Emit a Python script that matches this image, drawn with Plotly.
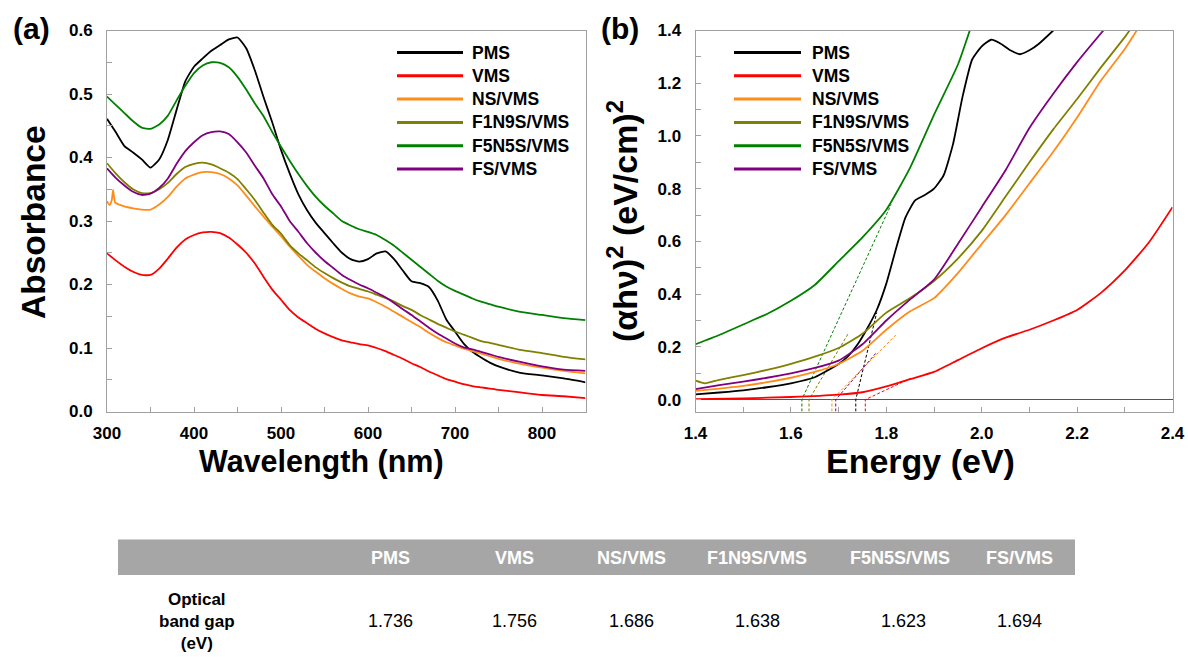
import plotly.graph_objects as go

W, H = 1188, 657
FONT = "Liberation Sans, Arial, sans-serif"

# ---------------- data ----------------
names = ["PMS", "VMS", "NS/VMS", "F1N9S/VMS", "F5N5S/VMS", "FS/VMS"]
colors = ["#000000", "#ff0000", "#ff8c1a", "#808000", "#008000", "#800080"]

# panel (a): absorbance vs wavelength
wl = [300, 310, 320, 330, 340, 350, 360, 370, 380, 390, 400, 410, 420, 430, 440, 450,
      460, 470, 480, 490, 500, 510, 520, 530, 540, 550, 560, 570, 580, 590, 600, 610,
      620, 630, 640, 650, 660, 670, 680, 690, 700, 710, 720, 730, 740, 750, 775, 800,
      825, 850]
abs_pms = [0.461, 0.44, 0.418, 0.408, 0.397, 0.384, 0.397, 0.428, 0.475, 0.52, 0.543, 0.556,
           0.568, 0.577, 0.586, 0.589, 0.572, 0.537, 0.495, 0.455, 0.412, 0.375, 0.342, 0.317,
           0.297, 0.281, 0.265, 0.25, 0.24, 0.236, 0.24, 0.249, 0.252, 0.24, 0.222, 0.205,
           0.202, 0.196, 0.175, 0.145, 0.126, 0.107, 0.094, 0.085, 0.077, 0.071, 0.061, 0.057,
           0.052, 0.046]
abs_vms = [0.249, 0.238, 0.228, 0.22, 0.215, 0.215, 0.225, 0.241, 0.258, 0.271, 0.278, 0.282,
           0.283, 0.281, 0.274, 0.263, 0.25, 0.233, 0.212, 0.192, 0.176, 0.16, 0.148, 0.139,
           0.13, 0.123, 0.117, 0.112, 0.109, 0.106, 0.104, 0.1, 0.095, 0.089, 0.083, 0.076,
           0.07, 0.063, 0.057, 0.051, 0.047, 0.043, 0.04, 0.038, 0.036, 0.034, 0.03, 0.026,
           0.024, 0.021]
wl_ns = [300, 303, 305.5, 307, 309.5, 320, 330, 340, 350, 360, 370, 380, 390, 400, 410, 420,
         430, 440, 450, 460, 470, 480, 490, 500, 510, 520, 530, 540, 550, 560, 570, 580, 590,
         600, 610, 620, 630, 640, 650, 660, 670, 680, 690, 700, 710, 720, 730, 740, 750, 775,
         800, 825, 850]
abs_ns = [0.331, 0.325, 0.333, 0.349, 0.329, 0.323, 0.32, 0.318, 0.318, 0.326, 0.338, 0.354,
          0.367, 0.373, 0.377, 0.377, 0.374, 0.367, 0.356, 0.34, 0.323, 0.307, 0.291, 0.276,
          0.26, 0.245, 0.231, 0.22, 0.21, 0.201, 0.193, 0.186, 0.181, 0.178, 0.172, 0.165,
          0.157, 0.149, 0.141, 0.133, 0.124, 0.116, 0.109, 0.104, 0.099, 0.095, 0.091, 0.087,
          0.083, 0.075, 0.069, 0.064, 0.06]
abs_f1 = [0.391, 0.375, 0.361, 0.35, 0.344, 0.344, 0.35, 0.36, 0.374, 0.385, 0.39, 0.392,
          0.389, 0.383, 0.376, 0.366, 0.35, 0.333, 0.313, 0.294, 0.28, 0.262, 0.249, 0.238,
          0.227, 0.218, 0.21, 0.203, 0.197, 0.193, 0.189, 0.184, 0.179, 0.173, 0.166, 0.16,
          0.152, 0.145, 0.138, 0.132, 0.126, 0.121, 0.116, 0.111, 0.108, 0.105, 0.097, 0.092,
          0.086, 0.082]
abs_f5 = [0.496, 0.483, 0.47, 0.457, 0.447, 0.445, 0.452, 0.466, 0.49, 0.513, 0.533, 0.545,
          0.55, 0.549, 0.542, 0.527, 0.507, 0.485, 0.465, 0.44, 0.417, 0.395, 0.374, 0.355,
          0.338, 0.324, 0.312, 0.3, 0.293, 0.287, 0.283, 0.278, 0.27, 0.261, 0.25, 0.239,
          0.228, 0.217, 0.206, 0.197, 0.19, 0.184, 0.178, 0.173, 0.169, 0.165, 0.157, 0.152,
          0.147, 0.144]
abs_fs = [0.383, 0.368, 0.356, 0.346, 0.341, 0.343, 0.352, 0.367, 0.39, 0.41, 0.424, 0.435,
          0.44, 0.441, 0.437, 0.424, 0.408, 0.387, 0.367, 0.342, 0.323, 0.3, 0.283, 0.265,
          0.25, 0.237, 0.226, 0.215, 0.207, 0.2, 0.194, 0.187, 0.18, 0.171, 0.161, 0.152,
          0.142, 0.132, 0.123, 0.115, 0.107, 0.101, 0.098, 0.094, 0.09, 0.086, 0.078, 0.071,
          0.066, 0.064]

# panel (b): Tauc plot
e_pms = [1.40, 1.45, 1.50, 1.55, 1.60, 1.65, 1.70, 1.72, 1.74, 1.76, 1.78, 1.80, 1.82, 1.84,
         1.86, 1.88, 1.90, 1.92, 1.94, 1.96, 1.98, 2.00, 2.02, 2.04, 2.06, 2.08, 2.10, 2.12, 2.15]
t_pms = [0.02, 0.027, 0.035, 0.047, 0.062, 0.085, 0.135, 0.165, 0.21, 0.27, 0.34, 0.44, 0.57,
         0.69, 0.755, 0.775, 0.80, 0.85, 0.97, 1.15, 1.29, 1.34, 1.365, 1.35, 1.325, 1.31,
         1.325, 1.35, 1.40]
e_vms = [1.40, 1.50, 1.60, 1.70, 1.75, 1.80, 1.85, 1.90, 1.95, 2.00, 2.05, 2.10, 2.15, 2.20,
         2.25, 2.30, 2.35, 2.40]
t_vms = [0.002, 0.005, 0.01, 0.019, 0.028, 0.05, 0.078, 0.105, 0.15, 0.195, 0.235, 0.265,
         0.3, 0.34, 0.405, 0.49, 0.595, 0.73]
e_ns = [1.40, 1.45, 1.50, 1.55, 1.60, 1.65, 1.70, 1.75, 1.80, 1.85, 1.90, 1.95, 2.00, 2.05,
        2.10, 2.15, 2.20, 2.25, 2.30, 2.325]
t_ns = [0.033, 0.042, 0.052, 0.066, 0.083, 0.105, 0.135, 0.185, 0.265, 0.335, 0.385, 0.48,
        0.59, 0.70, 0.82, 0.94, 1.07, 1.21, 1.33, 1.40]
e_f1 = [1.40, 1.42, 1.45, 1.50, 1.55, 1.60, 1.65, 1.70, 1.75, 1.80, 1.85, 1.90, 1.95, 2.00,
        2.05, 2.10, 2.15, 2.20, 2.25, 2.30, 2.31]
t_f1 = [0.072, 0.062, 0.075, 0.093, 0.113, 0.136, 0.163, 0.196, 0.25, 0.33, 0.385, 0.45,
        0.535, 0.64, 0.77, 0.90, 1.025, 1.14, 1.26, 1.375, 1.40]
e_f5 = [1.40, 1.45, 1.50, 1.55, 1.60, 1.65, 1.70, 1.75, 1.80, 1.85, 1.90, 1.95, 1.975]
t_f5 = [0.21, 0.245, 0.285, 0.325, 0.375, 0.435, 0.525, 0.615, 0.72, 0.88, 1.08, 1.27, 1.40]
e_fs = [1.40, 1.45, 1.50, 1.55, 1.60, 1.65, 1.70, 1.75, 1.80, 1.85, 1.90, 1.95, 2.00, 2.05,
        2.10, 2.15, 2.20, 2.255]
t_fs = [0.04, 0.055, 0.068, 0.083, 0.10, 0.12, 0.148, 0.21, 0.30, 0.38, 0.455, 0.59, 0.73,
        0.87, 1.03, 1.16, 1.28, 1.40]

# optical band gaps (x-intercepts) and end points of the linear fits
band_gap = [1.736, 1.756, 1.686, 1.638, 1.623, 1.694]
band_gap_labels = ["1.736", "1.756", "1.686", "1.638", "1.623", "1.694"]
fit_end_e = [1.78, 1.85, 1.82, 1.72, 1.81, 1.78]
fit_end_y = [0.33, 0.08, 0.245, 0.25, 0.74, 0.18]

# ---------------- layout constants ----------------
YB_MIN = -0.045
dom_y = [1 - 411.5 / H, 1 - 30.5 / H]
dom_xa = [107 / W, 585.5 / W]
dom_xb = [695.5 / W, 1172.5 / W]
GRID = "#a0a0a0"
LW = 1.8

fig = go.Figure()

a_x = [wl, wl, wl_ns, wl, wl, wl]
a_y = [abs_pms, abs_vms, abs_ns, abs_f1, abs_f5, abs_fs]
for n, c, xs, ys in zip(names, colors, a_x, a_y):
    fig.add_trace(go.Scatter(x=xs, y=ys, mode="lines", name=n, showlegend=False,
                             line=dict(color=c, width=LW, shape="spline", smoothing=0.5),
                             xaxis="x", yaxis="y"))

# fit lines (drawn first so curves sit on top)
for g, ee, ey, c in zip(band_gap, fit_end_e, fit_end_y, colors):
    fig.add_trace(go.Scatter(x=[g, g, ee], y=[YB_MIN, 0, ey], mode="lines",
                             line=dict(color=c, width=1, dash="3px,2px"),
                             showlegend=False, hoverinfo="skip",
                             xaxis="x2", yaxis="y2"))

b_x = [e_pms, e_vms, e_ns, e_f1, e_f5, e_fs]
b_y = [t_pms, t_vms, t_ns, t_f1, t_f5, t_fs]
for n, c, xs, ys in zip(names, colors, b_x, b_y):
    fig.add_trace(go.Scatter(x=xs, y=ys, mode="lines", name=n, showlegend=False,
                             line=dict(color=c, width=LW, shape="spline", smoothing=0.5),
                             xaxis="x2", yaxis="y2"))

tickfont = dict(family=FONT, size=17, color="black", weight="bold")
common = dict(showline=True, linecolor=GRID, linewidth=1, mirror=True,
              ticks="inside", tickcolor=GRID, ticklen=5, tickwidth=1,
              showgrid=False, zeroline=False, tickfont=tickfont, automargin=False)

fig.update_layout(
    width=W, height=H,
    margin=dict(l=0, r=0, t=0, b=0, autoexpand=False),
    paper_bgcolor="white", plot_bgcolor="white",
    showlegend=False,
    xaxis=dict(domain=dom_xa, range=[300, 850], anchor="y", dtick=100, tick0=300,
               ticklabelstandoff=6,
               minor=dict(ticks="inside", ticklen=5, tickcolor=GRID, dtick=50, showgrid=False),
               **common),
    yaxis=dict(domain=dom_y, range=[0, 0.6], anchor="x", dtick=0.1, tick0=0,
               tickformat=".1f", ticklabelstandoff=10,
               minor=dict(ticks="inside", ticklen=5, tickcolor=GRID, dtick=0.05, showgrid=False),
               **common),
    xaxis2=dict(domain=dom_xb, range=[1.4, 2.4], anchor="y2", dtick=0.2, tick0=1.4,
                tickformat=".1f", ticklabelstandoff=6,
                minor=dict(ticks="inside", ticklen=5, tickcolor=GRID, dtick=0.1, showgrid=False),
                **common),
    yaxis2=dict(domain=dom_y, range=[YB_MIN, 1.4], anchor="x2", dtick=0.2, tick0=0,
                tickformat=".1f", ticklabelstandoff=10,
                minor=dict(ticks="inside", ticklen=5, tickcolor=GRID, dtick=0.1, showgrid=False),
                **{**common, "zeroline": True, "zerolinecolor": "#555555", "zerolinewidth": 1}),
)


def ann(text, x, y, size, angle=0, color="black", bold=True, xanchor="center"):
    fig.add_annotation(text=text, x=x / W, y=1 - y / H, xref="paper", yref="paper",
                       showarrow=False, textangle=angle, xanchor=xanchor, yanchor="middle",
                       font=dict(family=FONT, size=size, color=color,
                                 weight="bold" if bold else "normal"))


# ---------------- legends (one per panel) ----------------
LEG_ROW0, LEG_DY = 52.5, 23.3
for x0, x1, xt in [(397, 463, 470), (734, 801, 810)]:
    for i, (n, c) in enumerate(zip(names, colors)):
        yy = LEG_ROW0 + i * LEG_DY
        fig.add_shape(type="line", xref="paper", yref="paper",
                      x0=x0 / W, x1=x1 / W, y0=1 - yy / H, y1=1 - yy / H,
                      line=dict(color=c, width=3))
        ann(n, xt, yy, 17.5, xanchor="left")

# ---------------- titles ----------------
ann("(a)", 31, 28, 30)
ann("(b)", 620, 28, 30)
ann("Absorbance", 33, 222, 33.5, angle=-90)
ann("Wavelength (nm)", 321, 461, 30.5)
ann("(αhν)<sup>2</sup> (eV/cm)<sup>2</sup>", 622, 221, 34, angle=-90)
ann("Energy (eV)", 920, 461, 34)

# ---------------- table ----------------
fig.add_shape(type="rect", xref="paper", yref="paper",
              x0=118 / W, x1=1075 / W, y0=1 - 575 / H, y1=1 - 539.5 / H,
              fillcolor="#a6a6a6", line=dict(width=0), layer="below")
col_x = [391, 514, 631, 757, 900, 1019]
val_x = [391, 514, 631, 757, 903, 1019]
for n, cx in zip(names, col_x):
    ann(n, cx, 557.5, 18, color="white")
for v, cx in zip(band_gap_labels, val_x):
    ann(v, cx, 621, 18, bold=False)
ann("Optical<br>band gap<br>(eV)", 197, 621, 17)

fig.write_html("out.html")
